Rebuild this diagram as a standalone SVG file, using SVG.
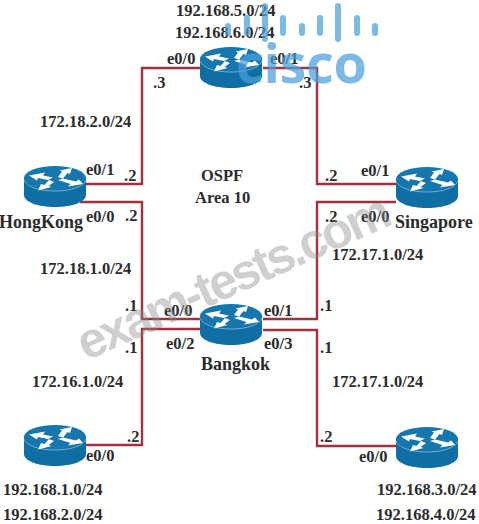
<svg xmlns="http://www.w3.org/2000/svg" xmlns:xlink="http://www.w3.org/1999/xlink" width="479" height="524" viewBox="0 0 479 524">
<style>
text{font-family:"Liberation Serif",serif;font-weight:bold;font-size:16.5px;fill:#2b2b2b}
.net{font-size:16.5px}
.name{font-size:18px}
.link{fill:none;stroke:#a3303c;stroke-width:2.4}
.wm{font-family:"Liberation Sans",sans-serif;font-weight:bold;font-size:50px;fill:#8a8a8a;opacity:.4}
.cs{font-family:"Open Sans","Liberation Sans",sans-serif;font-weight:700;font-size:54px;fill:#4a9fdc;opacity:.72}
.bar{fill:#4a9fdc;opacity:.72}
</style>
<defs>
<g id="router">
<path d="M0 12V29C0 36 14 41 31 41S62 36 62 29V12Z" fill="#0f6ea3"/>
<ellipse cx="31" cy="12" rx="31" ry="12" fill="#1577ae"/>
<path d="M0 14C2 20 14 25 31 25S60 20 62 14" fill="none" stroke="#8fc2dc" stroke-width=".8"/>
<path d="M5 9.500L21 6.500L19 9.500L29 11.500L24 14L14 12L13 14.500ZM34 11L38 5.500L35.500 4.500L48 2L46 8L43.500 7L39 12.500ZM34 14L39 12.500L52 15.500L55 13.500L59 18L44 20.500L46.500 18ZM25 14L30 16L24.500 20L27.500 21L14 24.500L17 18L20.500 19Z" fill="#fff"/>
</g>
</defs>
<g id="connectors">
<path class="link" d="M85 184H142V68H200"/>
<path class="link" d="M263 68H317V184H396"/>
<path class="link" d="M80 202H142V319H200"/>
<path class="link" d="M396 202H317V319H263"/>
<path class="link" d="M200 329H142V445H85"/>
<path class="link" d="M263 330H317V446H396"/>
</g>
<g id="router-top"><use xlink:href="#router" href="#router" x="200" y="47"/>
<text x="176" y="16" class="net">192.168.5.0/24</text><text x="175" y="38" class="net">192.168.6.0/24</text>
<text x="167" y="64">e0/0</text><text x="270" y="64">e0/1</text></g>
<g id="router-hongkong"><use xlink:href="#router" href="#router" x="24" y="166"/>
<text x="-1" y="228" class="name">HongKong</text><text x="86" y="175">e0/1</text><text x="86" y="222">e0/0</text></g>
<g id="router-singapore"><use xlink:href="#router" href="#router" x="396" y="167"/>
<text x="395" y="228" class="name">Singapore</text><text x="361" y="176">e0/1</text><text x="361" y="222">e0/0</text></g>
<g id="router-bangkok"><use xlink:href="#router" href="#router" x="200" y="304"/>
<text x="201" y="370" class="name">Bangkok</text><text x="164" y="316">e0/0</text><text x="166" y="349">e0/2</text><text x="264" y="316">e0/1</text><text x="264" y="349">e0/3</text></g>
<g id="router-bottom-left"><use xlink:href="#router" href="#router" x="24" y="425"/>
<text x="86" y="461">e0/0</text><text x="3" y="495" class="net">192.168.1.0/24</text><text x="3" y="520" class="net">192.168.2.0/24</text></g>
<g id="router-bottom-right"><use xlink:href="#router" href="#router" x="396" y="427"/>
<text x="359" y="462">e0/0</text><text x="377" y="495" class="net">192.168.3.0/24</text><text x="376" y="520" class="net">192.168.4.0/24</text></g>
<g id="labels">
<text x="40" y="127" class="net">172.18.2.0/24</text>
<text x="40" y="274" class="net">172.18.1.0/24</text>
<text x="32" y="387" class="net">172.16.1.0/24</text>
<text x="332" y="260" class="net">172.17.1.0/24</text>
<text x="332" y="387" class="net">172.17.1.0/24</text>
<text x="201" y="181" class="net">OSPF</text>
<text x="195" y="203" class="net">Area 10</text>
<text x="153" y="88">.3</text><text x="299" y="88">.3</text>
<text x="124" y="181">.2</text><text x="325" y="181">.2</text>
<text x="125" y="221">.2</text><text x="325" y="222">.2</text>
<text x="125" y="311">.1</text><text x="320" y="311">.1</text>
<text x="125" y="353">.1</text><text x="320" y="353">.1</text>
<text x="127" y="442">.2</text><text x="320" y="442">.2</text>
</g>
<g id="watermarks">
<text class="wm" transform="translate(86 361) rotate(-24)" textLength="338">exam-tests.com</text>
<rect class="bar" x="225" y="23" width="6" height="13" rx="3"/><rect class="bar" x="244" y="15" width="6" height="21" rx="3"/><rect class="bar" x="262" y="3" width="6" height="39" rx="3"/><rect class="bar" x="280" y="15" width="6" height="21" rx="3"/><rect class="bar" x="299" y="23" width="6" height="13" rx="3"/><rect class="bar" x="317" y="15" width="6" height="21" rx="3"/><rect class="bar" x="335" y="3" width="6" height="39" rx="3"/><rect class="bar" x="354" y="15" width="6" height="21" rx="3"/><rect class="bar" x="372" y="23" width="6" height="13" rx="3"/>
<text class="cs" x="236" y="83" textLength="131">cisco</text>
</g>
</svg>
